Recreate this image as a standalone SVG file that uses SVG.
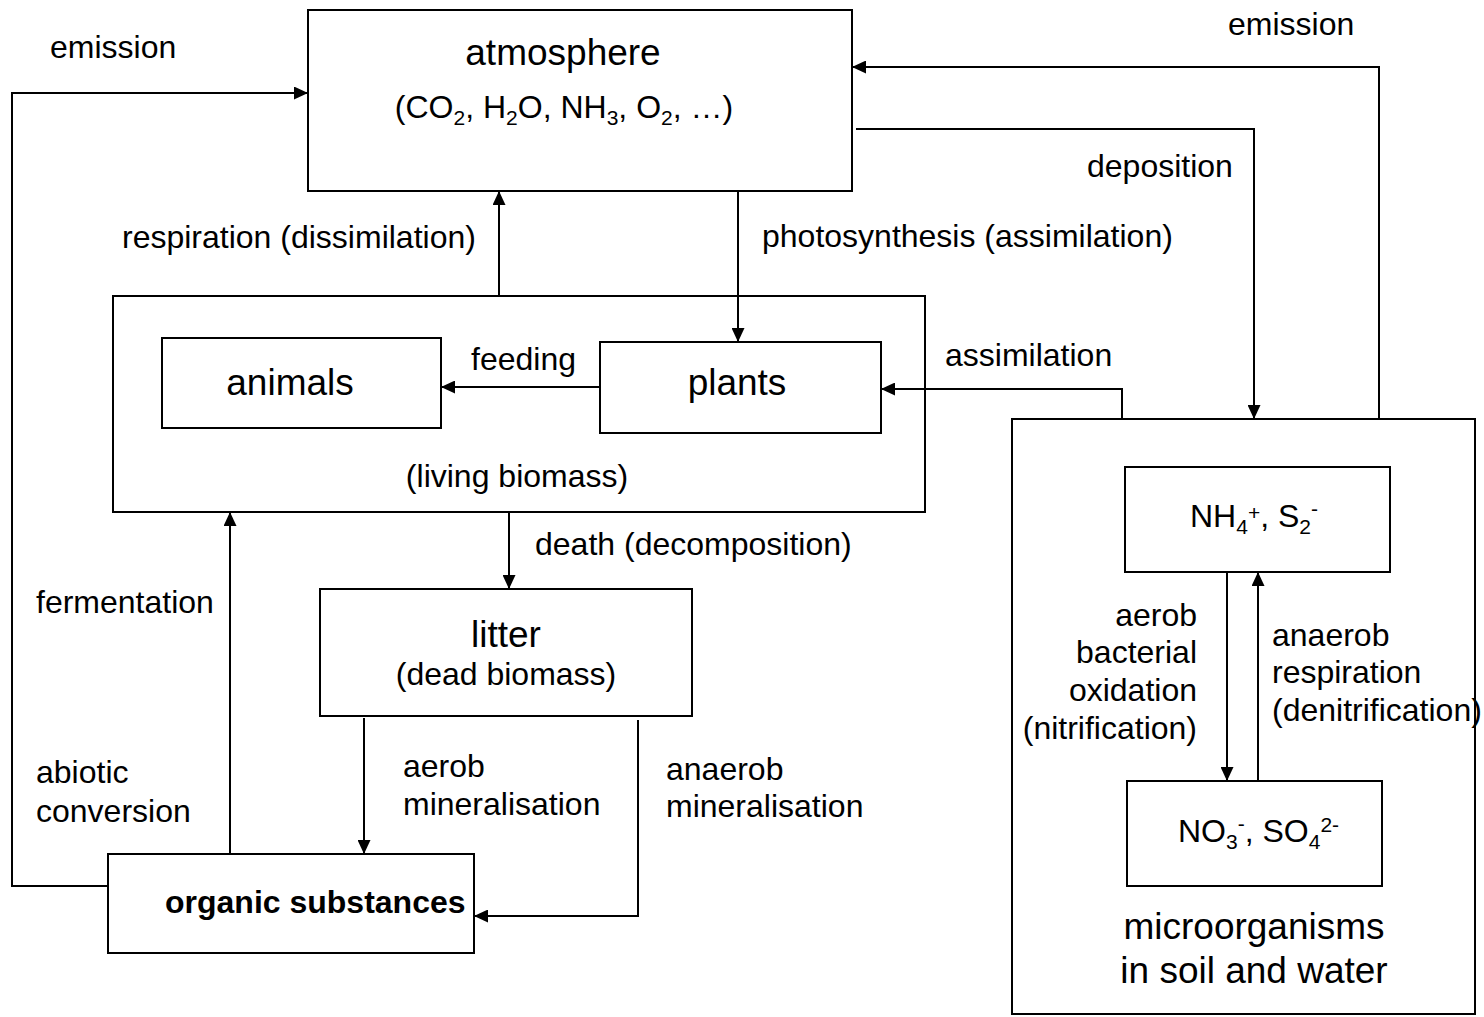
<svg xmlns="http://www.w3.org/2000/svg" width="1484" height="1017" viewBox="0 0 1484 1017">
  <style>
    text { font-family: "Liberation Sans", Arial, sans-serif; fill: #000; }
    .lbl { font-size: 32px; }
    .ttl { font-size: 37px; }
    .sub { font-size: 21px; }
    .bold { font-weight: bold; }
    .mid { text-anchor: middle; }
    .end { text-anchor: end; }
    .box { fill: #fff; stroke: #000; stroke-width: 2; }
    .wire { fill: none; stroke: #000; stroke-width: 2; }
    .arr { marker-end: url(#head); }
  </style>
  <defs>
    <marker id="head" markerUnits="userSpaceOnUse" markerWidth="14" markerHeight="13" refX="14" refY="6.5" orient="auto">
      <path d="M0,0 L14,6.5 L0,13 Z" fill="#000"/>
    </marker>
  </defs>
  <rect width="1484" height="1017" fill="#fff"/>

  <!-- boxes -->
  <g id="atmosphere">
    <rect class="box" x="308" y="10" width="544" height="181"/>
    <text class="ttl mid" x="563" y="65">atmosphere</text>
    <text class="lbl mid" x="564" y="118">(CO<tspan class="sub" dy="7">2</tspan><tspan dy="-7">, H</tspan><tspan class="sub" dy="7">2</tspan><tspan dy="-7">O, NH</tspan><tspan class="sub" dy="7">3</tspan><tspan dy="-7">, O</tspan><tspan class="sub" dy="7">2</tspan><tspan dy="-7">, …)</tspan></text>
  </g>

  <g id="living-biomass">
    <rect class="box" x="113" y="296" width="812" height="216"/>
    <text class="lbl mid" x="517" y="487">(living biomass)</text>
  </g>

  <g id="animals">
    <rect class="box" x="162" y="338" width="279" height="90"/>
    <text class="ttl mid" x="290" y="395">animals</text>
  </g>

  <g id="plants">
    <rect class="box" x="600" y="342" width="281" height="91"/>
    <text class="ttl mid" x="737" y="395">plants</text>
  </g>

  <g id="litter">
    <rect class="box" x="320" y="589" width="372" height="127"/>
    <text class="ttl mid" x="506" y="647">litter</text>
    <text class="lbl mid" x="506" y="685">(dead biomass)</text>
  </g>

  <g id="organic-substances">
    <rect class="box" x="108" y="854" width="366" height="99"/>
    <text class="lbl bold" x="165" y="913">organic substances</text>
  </g>

  <g id="microorganisms">
    <rect class="box" x="1012" y="419" width="463" height="595"/>
    <text class="ttl mid" x="1254" y="939">microorganisms</text>
    <text class="ttl mid" x="1254" y="983">in soil and water</text>
  </g>

  <g id="ammonium-sulfide">
    <rect class="box" x="1125" y="467" width="265" height="105"/>
    <text class="lbl" x="1190" y="527">NH<tspan class="sub" dy="7">4</tspan><tspan class="sub" dy="-14">+</tspan><tspan dy="7">, S</tspan><tspan class="sub" dy="7">2</tspan><tspan class="sub" dy="-18">-</tspan></text>
  </g>

  <g id="nitrate-sulfate">
    <rect class="box" x="1127" y="781" width="255" height="105"/>
    <text class="lbl" x="1178" y="842">NO<tspan class="sub" dy="7">3</tspan><tspan class="sub" dy="-18">-</tspan><tspan dy="11">, SO</tspan><tspan class="sub" dy="7">4</tspan><tspan class="sub" dy="-17">2-</tspan></text>
  </g>

  <!-- connectors -->
  <g id="connectors">
    <!-- emission from organic substances to atmosphere -->
    <polyline class="wire arr" points="108,886 12,886 12,93 308,93"/>
    <!-- emission from microorganisms to atmosphere -->
    <polyline class="wire arr" points="1379,419 1379,67 852,67"/>
    <!-- deposition -->
    <polyline class="wire arr" points="856,129 1254,129 1254,419"/>
    <!-- respiration -->
    <line class="wire arr" x1="499" y1="296" x2="499" y2="191"/>
    <!-- photosynthesis -->
    <line class="wire arr" x1="738" y1="191" x2="738" y2="342"/>
    <!-- feeding -->
    <line class="wire arr" x1="600" y1="387" x2="441" y2="387"/>
    <!-- assimilation -->
    <polyline class="wire arr" points="1122,419 1122,389 881,389"/>
    <!-- death -->
    <line class="wire arr" x1="509" y1="512" x2="509" y2="589"/>
    <!-- aerob mineralisation -->
    <line class="wire arr" x1="364" y1="718" x2="364" y2="854"/>
    <!-- anaerob mineralisation -->
    <polyline class="wire arr" points="638,720 638,916 474,916"/>
    <!-- fermentation / abiotic conversion -->
    <line class="wire arr" x1="230" y1="854" x2="230" y2="512"/>
    <!-- nitrification -->
    <line class="wire arr" x1="1227" y1="572" x2="1227" y2="781"/>
    <!-- denitrification -->
    <line class="wire arr" x1="1258" y1="781" x2="1258" y2="572"/>
  </g>

  <!-- connector labels -->
  <g id="labels" class="lbl">
    <text class="lbl" x="50" y="58">emission</text>
    <text class="lbl" x="1228" y="35">emission</text>
    <text class="lbl" x="1087" y="177">deposition</text>
    <text class="lbl" x="122" y="248">respiration (dissimilation)</text>
    <text class="lbl" x="762" y="247">photosynthesis (assimilation)</text>
    <text class="lbl" x="471" y="370">feeding</text>
    <text class="lbl" x="945" y="366">assimilation</text>
    <text class="lbl" x="535" y="555">death (decomposition)</text>
    <text class="lbl" x="36" y="613">fermentation</text>
    <text class="lbl" x="36" y="783">abiotic</text>
    <text class="lbl" x="36" y="822">conversion</text>
    <text class="lbl" x="403" y="777">aerob</text>
    <text class="lbl" x="403" y="815">mineralisation</text>
    <text class="lbl" x="666" y="780">anaerob</text>
    <text class="lbl" x="666" y="817">mineralisation</text>
    <text class="lbl end" x="1197" y="626">aerob</text>
    <text class="lbl end" x="1197" y="663">bacterial</text>
    <text class="lbl end" x="1197" y="701">oxidation</text>
    <text class="lbl end" x="1197" y="739">(nitrification)</text>
    <text class="lbl" x="1272" y="646">anaerob</text>
    <text class="lbl" x="1272" y="683">respiration</text>
    <text class="lbl" x="1272" y="721">(denitrification)</text>
  </g>
</svg>
